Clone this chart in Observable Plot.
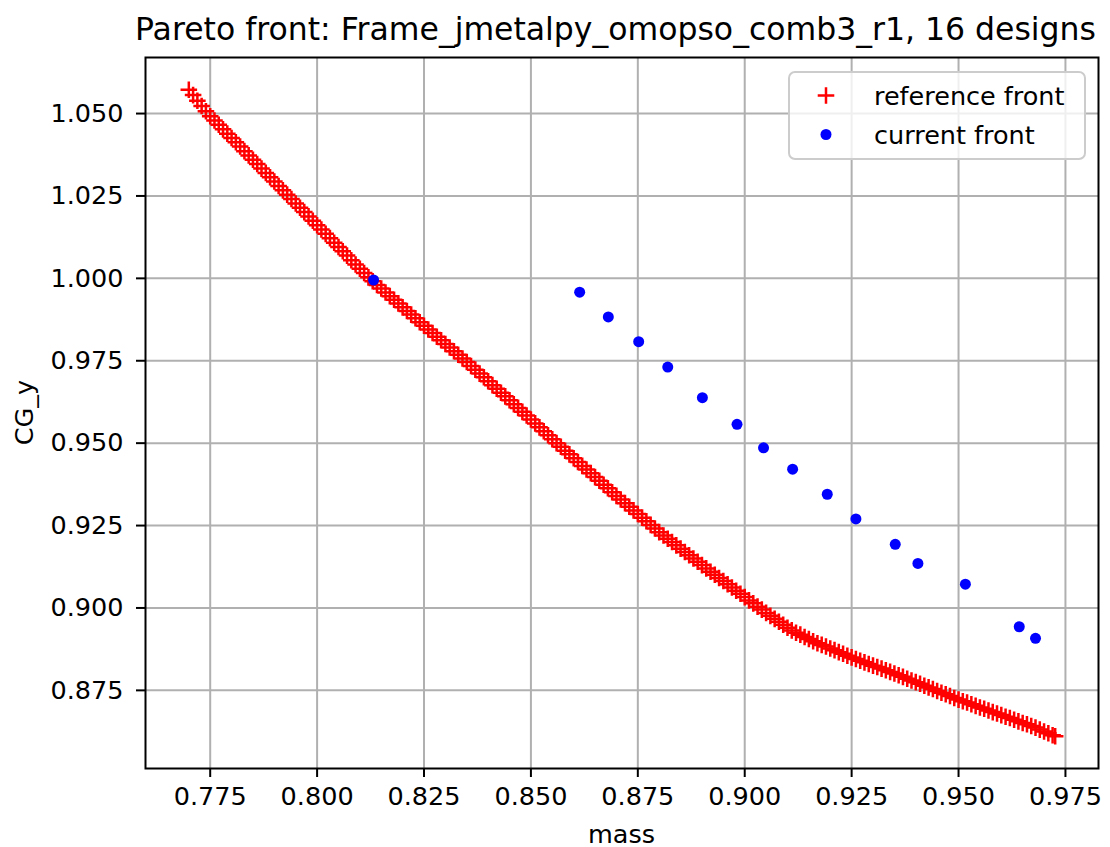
<!DOCTYPE html>
<html>
<head>
<meta charset="utf-8">
<script src="https://cdn.jsdelivr.net/npm/d3@7"></script>
<script src="https://cdn.jsdelivr.net/npm/@observablehq/plot@0.6"></script>
<style>
  html, body { margin: 0; padding: 0; background: white; }
  #chart { position: relative; width: 1110px; height: 847px; }
</style>
</head>
<body>
<div id="chart"></div>
<script>
const titleText = "Pareto front: Frame_jmetalpy_omopso_comb3_r1, 16 designs";
const xLabel = "mass";
const yLabel = "CG_y";
const seriesNames = ["reference front", "current front"];

const xTicks = [0.775, 0.800, 0.825, 0.850, 0.875, 0.900, 0.925, 0.950, 0.975];
const yTicks = [0.875, 0.900, 0.925, 0.950, 0.975, 1.000, 1.025, 1.050];

// reference front (red +)
const refMass = [
0.770,0.771,0.772,0.773,0.774,0.775,0.776,0.777,0.778,0.779,
0.780,0.781,0.782,0.783,0.784,0.785,0.786,0.787,0.788,0.789,
0.790,0.791,0.792,0.793,0.794,0.795,0.796,0.797,0.798,0.799,
0.800,0.801,0.802,0.803,0.804,0.805,0.806,0.807,0.808,0.809,
0.810,0.811,0.812,0.813,0.814,0.815,0.816,0.817,0.818,0.819,
0.820,0.821,0.822,0.823,0.824,0.825,0.826,0.827,0.828,0.829,
0.830,0.831,0.832,0.833,0.834,0.835,0.836,0.837,0.838,0.839,
0.840,0.841,0.842,0.843,0.844,0.845,0.846,0.847,0.848,0.849,
0.850,0.851,0.852,0.853,0.854,0.855,0.856,0.857,0.858,0.859,
0.860,0.861,0.862,0.863,0.864,0.865,0.866,0.867,0.868,0.869,
0.870,0.871,0.872,0.873,0.874,0.875,0.876,0.877,0.878,0.879,
0.880,0.881,0.882,0.883,0.884,0.885,0.886,0.887,0.888,0.889,
0.890,0.891,0.892,0.893,0.894,0.895,0.896,0.897,0.898,0.899,
0.900,0.901,0.902,0.903,0.904,0.905,0.906,0.907,0.908,0.909,
0.910,0.911,0.912,0.913,0.914,0.915,0.916,0.917,0.918,0.919,
0.920,0.921,0.922,0.923,0.924,0.925,0.926,0.927,0.928,0.929,
0.930,0.931,0.932,0.933,0.934,0.935,0.936,0.937,0.938,0.939,
0.940,0.941,0.942,0.943,0.944,0.945,0.946,0.947,0.948,0.949,
0.950,0.951,0.952,0.953,0.954,0.955,0.956,0.957,0.958,0.959,
0.960,0.961,0.962,0.963,0.964,0.965,0.966,0.967,0.968,0.969,
0.970,0.971,0.972,0.9726
];
const refCgY = [
1.0572,1.0556,1.0539,1.0523,1.0507,1.0492,1.0479,1.0466,1.0452,1.0439,
1.0426,1.0413,1.0400,1.0386,1.0373,1.0360,1.0347,1.0333,1.0320,1.0307,
1.0294,1.0280,1.0267,1.0254,1.0241,1.0227,1.0214,1.0201,1.0188,1.0175,
1.0161,1.0148,1.0135,1.0122,1.0108,1.0095,1.0082,1.0069,1.0055,1.0042,
1.0029,1.0016,1.0003,0.9991,0.9980,0.9969,0.9957,0.9946,0.9935,0.9924,
0.9912,0.9901,0.9890,0.9879,0.9867,0.9856,0.9845,0.9834,0.9823,0.9812,
0.9801,0.9790,0.9779,0.9768,0.9757,0.9746,0.9734,0.9723,0.9711,0.9700,
0.9688,0.9676,0.9665,0.9653,0.9642,0.9630,0.9618,0.9607,0.9595,0.9584,
0.9572,0.9560,0.9548,0.9536,0.9524,0.9512,0.9500,0.9489,0.9477,0.9466,
0.9454,0.9443,0.9431,0.9420,0.9409,0.9397,0.9386,0.9374,0.9363,0.9351,
0.9340,0.9329,0.9318,0.9307,0.9296,0.9285,0.9274,0.9263,0.9252,0.9241,
0.9230,0.9220,0.9210,0.9200,0.9190,0.9180,0.9170,0.9160,0.9150,0.9140,
0.9130,0.9120,0.9110,0.9101,0.9091,0.9082,0.9072,0.9062,0.9052,0.9043,
0.9033,0.9023,0.9014,0.9004,0.8995,0.8985,0.8976,0.8967,0.8958,0.8949,
0.8940,0.8932,0.8925,0.8919,0.8912,0.8906,0.8899,0.8893,0.8888,0.8883,
0.8877,0.8872,0.8866,0.8861,0.8855,0.8850,0.8845,0.8840,0.8835,0.8830,
0.8825,0.8821,0.8816,0.8811,0.8806,0.8801,0.8796,0.8791,0.8785,0.8780,
0.8775,0.8770,0.8764,0.8759,0.8754,0.8748,0.8743,0.8738,0.8733,0.8727,
0.8722,0.8717,0.8713,0.8708,0.8703,0.8698,0.8694,0.8689,0.8684,0.8680,
0.8675,0.8670,0.8666,0.8661,0.8656,0.8651,0.8647,0.8642,0.8637,0.8631,
0.8625,0.8620,0.8614,0.8611
];

// current front (blue dots), 16 designs
const curMass = [0.8132,0.8614,0.8681,0.8752,0.8820,0.8901,0.8982,0.9044,0.9112,0.9193,0.9260,0.9352,0.9405,0.9516,0.9642,0.9680];
const curCgY  = [0.9995,0.9958,0.9883,0.9808,0.9731,0.9638,0.9557,0.9486,0.9421,0.9345,0.9270,0.9193,0.9135,0.9072,0.8943,0.8908];

const ref = refMass.map((m, i) => ({mass: m, cg: refCgY[i]}));
const cur = curMass.map((m, i) => ({mass: m, cg: curCgY[i]}));

// matplotlib-like 5% margins around data extent
const xExt = d3.extent(refMass.concat(curMass));
const yExt = d3.extent(refCgY.concat(curCgY));
const xPad = (xExt[1] - xExt[0]) * 0.05;
const yPad = (yExt[1] - yExt[0]) * 0.05;

const W = 1110, H = 847;
const mL = 145, mR = 12, mT = 57, mB = 79;
const FS = 25.5;
const plusR = 5.4;
const dotR = 5.5;
const fmt = d3.format(".3f");

const chart = Plot.plot({
  width: W,
  height: H,
  marginLeft: mL,
  marginRight: mR,
  marginTop: mT,
  marginBottom: mB,
  style: {fontFamily: "DejaVu Sans, sans-serif", fontSize: FS + "px", background: "white", color: "black", overflow: "visible"},
  x: {domain: [xExt[0] - xPad, xExt[1] + xPad], label: null},
  y: {domain: [yExt[0] - yPad, yExt[1] + yPad], label: null},
  marks: [
    Plot.gridX(xTicks, {stroke: "#b0b0b0", strokeWidth: 2, strokeOpacity: 1}),
    Plot.gridY(yTicks, {stroke: "#b0b0b0", strokeWidth: 2, strokeOpacity: 1}),
    Plot.axisX({ticks: xTicks, tickFormat: fmt, tickSize: 9, tickPadding: 9, strokeWidth: 2,
                label: null, fontSize: FS, fill: "black"}),
    Plot.axisY({ticks: yTicks, tickFormat: fmt, tickSize: 9, tickPadding: 13, strokeWidth: 2,
                label: null, fontSize: FS, fill: "black"}),
    Plot.dot(ref, {x: "mass", y: "cg", symbol: "plus", r: plusR, stroke: "red", strokeWidth: 2.5, fill: "none"}),
    Plot.dot(cur, {x: "mass", y: "cg", r: dotR, fill: "blue", stroke: "none"}),
    Plot.frame({stroke: "black", strokeWidth: 2})
  ]
});

document.getElementById("chart").appendChild(chart);

const svg = d3.select(chart);
const cx = (mL + (W - mR)) / 2;
const cy = (mT + (H - mB)) / 2;

// title
svg.append("text")
  .attr("x", cx - 6).attr("y", 40)
  .attr("text-anchor", "middle")
  .attr("font-size", "31.5px")
  .attr("fill", "black")
  .text(titleText);

// axis labels
svg.append("text")
  .attr("x", cx).attr("y", 843)
  .attr("text-anchor", "middle")
  .attr("font-size", FS + "px")
  .attr("fill", "black")
  .text(xLabel);
svg.append("text")
  .attr("transform", `translate(33,${cy}) rotate(-90)`)
  .attr("text-anchor", "middle")
  .attr("font-size", FS + "px")
  .attr("fill", "black")
  .text(yLabel);

// legend (matplotlib style, upper right)
const lgW = 296, lgH = 87;
const lg = svg.append("g").attr("transform", `translate(${W - mR - 13 - lgW},${mT + 15})`);
lg.append("rect")
  .attr("width", lgW).attr("height", lgH).attr("rx", 6)
  .attr("fill", "white").attr("fill-opacity", 0.8)
  .attr("stroke", "#cccccc").attr("stroke-width", 2);
const legItems = [
  {name: seriesNames[0], sym: d3.symbolPlus, size: Math.PI * plusR * plusR, fill: "none", stroke: "red"},
  {name: seriesNames[1], sym: d3.symbolCircle, size: Math.PI * dotR * dotR, fill: "blue", stroke: "none"}
];
legItems.forEach((it, i) => {
  const gy = 23.5 + i * 39;
  lg.append("path")
    .attr("d", d3.symbol(it.sym, it.size)())
    .attr("transform", `translate(37,${gy})`)
    .attr("fill", it.fill).attr("stroke", it.stroke).attr("stroke-width", 2.5);
  lg.append("text")
    .attr("x", 85).attr("y", gy + 9)
    .attr("text-anchor", "start")
    .attr("font-size", FS + "px").attr("fill", "black")
    .text(it.name);
});
</script>
</body>
</html>
